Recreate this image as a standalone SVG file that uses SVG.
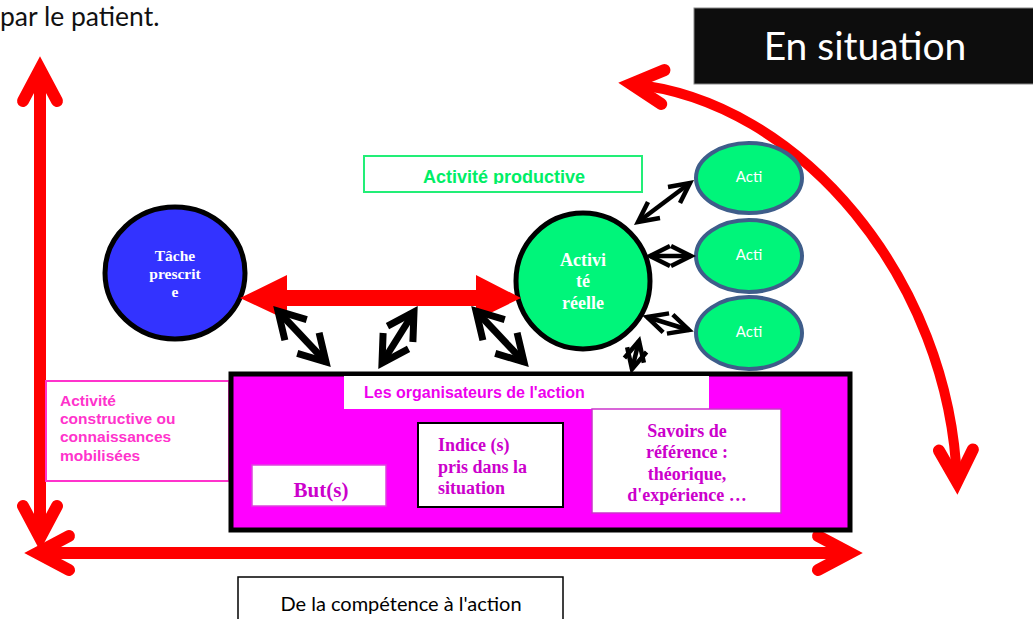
<svg xmlns="http://www.w3.org/2000/svg" width="1033" height="619" viewBox="0 0 1033 619">
<defs>
<style>
.sans{font-family:Lato,"Open Sans","Liberation Sans",sans-serif}
.arial{font-family:"Liberation Sans",Arial,sans-serif;font-weight:bold}
.times{font-family:"Liberation Serif","Times New Roman",serif;font-weight:bold}
.red{fill:none;stroke:#ff0000}
.blk{fill:none;stroke:#000;stroke-width:7}
.thin{fill:none;stroke:#000;stroke-width:4.5}
.acti{fill:#00f57a;stroke:#3e5d8a;stroke-width:4}
.actiT{fill:#fff;font-size:15px;text-anchor:middle}
</style>
<marker id="redHead" markerUnits="userSpaceOnUse" markerWidth="10" markerHeight="10" refX="0" refY="0" orient="auto-start-reverse" overflow="visible">
<path d="M-32,-17 L0,0 L-32,17" fill="none" stroke="#ff0000" stroke-width="12" stroke-linecap="round" stroke-linejoin="miter"/>
</marker>
<marker id="blkHead" markerUnits="userSpaceOnUse" markerWidth="10" markerHeight="10" refX="0" refY="0" orient="auto-start-reverse" overflow="visible">
<path d="M-26,-15 L0,0 L-26,15" fill="none" stroke="#000" stroke-width="7" stroke-linejoin="miter"/>
</marker>
<marker id="thinHead" markerUnits="userSpaceOnUse" markerWidth="10" markerHeight="10" refX="0" refY="0" orient="auto-start-reverse" overflow="visible">
<path d="M-20,-10 L0,0 L-20,10" fill="none" stroke="#000" stroke-width="4.5" stroke-linejoin="miter"/>
</marker>
<clipPath id="clipProd"><rect x="364" y="157" width="278" height="27"/></clipPath>
<clipPath id="clipOrg"><rect x="344" y="376" width="365" height="25"/></clipPath>
</defs>
<rect width="1033" height="619" fill="#fff"/>

<text class="sans" x="0" y="26" font-size="26.5" fill="#111">par le patient.</text>

<g id="en-situation">
<rect x="694" y="8" width="345" height="76" fill="#0d0d0d" stroke="#888" stroke-width="1"/>
<text class="sans" x="865" y="60" font-size="39" fill="#fff" text-anchor="middle">En situation</text>
</g>

<g id="axes">
<path class="red" stroke-width="12" d="M40,69 L40,538" marker-start="url(#redHead)" marker-end="url(#redHead)"/>
<path class="red" stroke-width="12" d="M37,553 L850,553" marker-start="url(#redHead)" marker-end="url(#redHead)"/>
<path class="red" stroke-width="10" d="M631,84 C800,100 950,280 957,482" marker-start="url(#redHead)" marker-end="url(#redHead)"/>
</g>

<g id="activite-constructive">
<rect x="46" y="381" width="183" height="100" fill="#fff" stroke="#ff33cc" stroke-width="2"/>
<text class="arial" font-size="15.5" fill="#ff33cc"><tspan x="60" y="406">Activité</tspan><tspan x="60" y="424">constructive ou</tspan><tspan x="60" y="442">connaissances</tspan><tspan x="60" y="461">mobilisées</tspan></text>
</g>

<g id="organisateurs">
<rect x="231" y="374" width="619" height="156" fill="#ff00ff" stroke="#000" stroke-width="5"/>
<rect x="344" y="376" width="365" height="33" fill="#fff"/>
<text class="arial" x="364" y="398" font-size="16" fill="#ee00ee" clip-path="url(#clipOrg)">Les organisateurs de l'action</text>
</g>

<g id="buts">
<rect x="252" y="465" width="134" height="41" fill="#fff" stroke="#dd44dd" stroke-width="1.5"/>
<text class="times" x="321" y="497" font-size="21" fill="#cc00cc" text-anchor="middle">But(s)</text>
</g>

<g id="indices">
<rect x="418" y="423" width="145" height="84" fill="#fff" stroke="#000" stroke-width="2"/>
<text class="times" font-size="18" fill="#cc00cc"><tspan x="438" y="451">Indice (s)</tspan><tspan x="438" y="473">pris dans la</tspan><tspan x="438" y="494">situation</tspan></text>
</g>

<g id="savoirs">
<rect x="592" y="409" width="189" height="104" fill="#fff" stroke="#cc33cc" stroke-width="1.5"/>
<text class="times" font-size="18" fill="#cc00cc" text-anchor="middle"><tspan x="687" y="437">Savoirs de</tspan><tspan x="687" y="458">référence :</tspan><tspan x="687" y="480">théorique,</tspan><tspan x="687" y="501">d'expérience …</tspan></text>
</g>

<g id="activite-productive">
<rect x="364" y="156" width="278" height="36" fill="#fff" stroke="#22ee77" stroke-width="2"/>
<text class="arial" x="504" y="183" font-size="18" fill="#00ee66" text-anchor="middle" clip-path="url(#clipProd)">Activité productive</text>
</g>

<g id="tache-prescrite">
<ellipse cx="175" cy="273" rx="70" ry="66" fill="#3333ff" stroke="#000" stroke-width="5"/>
<text class="times" font-size="15.5" fill="#fff" text-anchor="middle"><tspan x="175" y="261">Tâche</tspan><tspan x="175" y="279">prescrit</tspan><tspan x="175" y="297">e</tspan></text>
</g>

<g id="activite-reelle">
<ellipse cx="583" cy="281" rx="67" ry="68" fill="#00f57a" stroke="#000" stroke-width="5"/>
<text class="times" font-size="18" fill="#fff" text-anchor="middle"><tspan x="583" y="266">Activi</tspan><tspan x="583" y="287">té</tspan><tspan x="583" y="309">réelle</tspan></text>
</g>

<g id="acti-1">
<ellipse class="acti" cx="749" cy="178" rx="53" ry="35"/>
<text class="sans actiT" x="749" y="182">Acti</text>
</g>
<g id="acti-2">
<ellipse class="acti" cx="749" cy="256" rx="53" ry="36"/>
<text class="sans actiT" x="749" y="260">Acti</text>
</g>
<g id="acti-3">
<ellipse class="acti" cx="749" cy="333" rx="53" ry="36"/>
<text class="sans actiT" x="749" y="337">Acti</text>
</g>

<g id="connectors">
<polygon fill="#ff0000" points="240,298 287,275 287,290 476,290 476,275 521,298 476,320 476,306 287,306 287,320"/>
<path class="blk" d="M278,311 L326,362" marker-start="url(#blkHead)" marker-end="url(#blkHead)"/>
<path class="blk" d="M414,312 L382,363" marker-start="url(#blkHead)" marker-end="url(#blkHead)"/>
<path class="blk" d="M476,311 L524,362" marker-start="url(#blkHead)" marker-end="url(#blkHead)"/>
<path class="thin" d="M638,222 L690,183" marker-start="url(#thinHead)" marker-end="url(#thinHead)"/>
<path class="thin" d="M650,256 L691,256" marker-start="url(#thinHead)" marker-end="url(#thinHead)"/>
<path class="thin" d="M647,317 L689,330" marker-start="url(#thinHead)" marker-end="url(#thinHead)"/>
<path class="thin" d="M639,341 L632,369" marker-start="url(#thinHead)" marker-end="url(#thinHead)"/>
</g>

<g id="de-la-competence">
<rect x="238" y="577" width="325" height="46" fill="#fff" stroke="#000" stroke-width="1.5"/>
<text class="sans" x="401" y="611" font-size="20" fill="#000" text-anchor="middle">De la compétence à l'action</text>
</g>
</svg>
